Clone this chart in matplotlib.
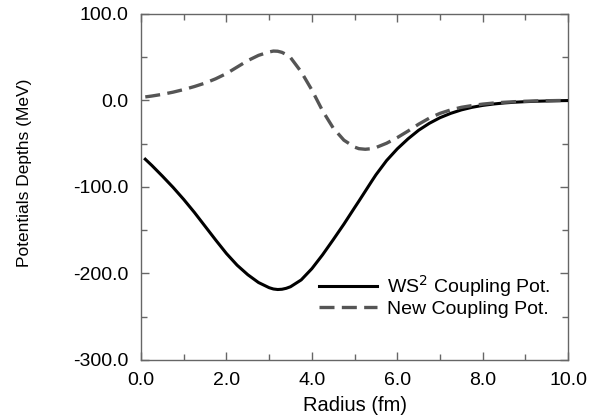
import matplotlib
matplotlib.use("Agg")
import matplotlib.pyplot as plt
from matplotlib.ticker import MultipleLocator, FormatStrFormatter

plt.rcParams['font.family'] = ['Liberation Sans', 'DejaVu Sans']

radius = [0.1, 0.25, 0.5, 0.75, 1.0, 1.25, 1.5, 1.75, 2.0, 2.25, 2.5, 2.75,
          3.0, 3.1, 3.2, 3.3, 3.4, 3.5, 3.75, 4.0, 4.25, 4.5, 4.75, 5.0, 5.1, 5.25, 5.4, 5.5,
          5.75, 6.0, 6.25, 6.5, 6.75, 7.0, 7.25, 7.5, 7.75, 8.0, 8.25, 8.5,
          8.75, 9.0, 9.25, 9.5, 9.75, 10.0]

ws2_pot = [-68, -75, -87.5, -100.5, -114.5, -129.5, -145.5, -161.5, -177, -190.5, -201.5, -210.5,
           -216.5, -218, -218.6, -218.3, -217.2, -215.4, -207.5, -194.5, -178.5, -161, -143, -124,
           -116.5, -105, -93.5, -86,
           -69.5, -56, -44.5, -34.5, -26.5, -20, -15, -11, -8, -5.8, -4.2, -3,
           -2.1, -1.5, -1, -0.7, -0.4, -0.2]

new_pot = [4, 5, 7, 9.5, 12.5, 16, 20, 25, 31, 38.5, 46, 52,
           56, 57, 56.8, 55.5, 53, 49.5, 33, 12, -12, -32, -46, -54, -55.8, -56.5, -55.8, -54.5,
           -49.5, -43, -35.5, -27.5, -20.5, -15, -11, -8, -6, -4.3, -3.1, -2.2,
           -1.5, -1, -0.6, -0.4, -0.2, -0.1]

fig = plt.figure(figsize=(5.9, 4.2), dpi=100)
ax = fig.add_axes([0.239, 0.143, 0.724, 0.824])

ax.plot(radius, ws2_pot, color='black', lw=2.2, label='WS$^2$ Coupling Pot.', zorder=3)
ax.plot(radius, new_pot, color='#555555', lw=2.4, dashes=(4.5, 2.2),
        label='New Coupling Pot.', zorder=4)

ax.set_xlim(0, 10)
ax.set_ylim(-300, 100)
ax.xaxis.set_major_locator(MultipleLocator(2))
ax.xaxis.set_minor_locator(MultipleLocator(1))
ax.yaxis.set_major_locator(MultipleLocator(100))
ax.yaxis.set_minor_locator(MultipleLocator(50))
ax.xaxis.set_major_formatter(FormatStrFormatter('%.1f'))
ax.yaxis.set_major_formatter(FormatStrFormatter('%.1f'))

for s in ax.spines.values():
    s.set_color('#666666')
    s.set_linewidth(1.0)
ax.tick_params(which='both', direction='in', top=True, right=True,
               color='#666666', width=1.0)
ax.tick_params(which='major', length=6, labelsize=14)
ax.tick_params(axis='y', which='major', pad=9)
ax.tick_params(axis='x', which='major', pad=9)
ax.tick_params(which='minor', length=4)

ax.set_xlabel('Radius (fm)', fontsize=14.5, labelpad=5)
ax.set_ylabel('Potentials Depths (MeV)', fontsize=12.5)
ax.yaxis.set_label_coords(-0.255, 0.54)

leg = ax.legend(loc='lower right', bbox_to_anchor=(1.0, 0.07), frameon=False,
                fontsize=14, handlelength=3.0, handletextpad=0.5,
                labelspacing=0.1)

fig.savefig('out.png', dpi=100)
